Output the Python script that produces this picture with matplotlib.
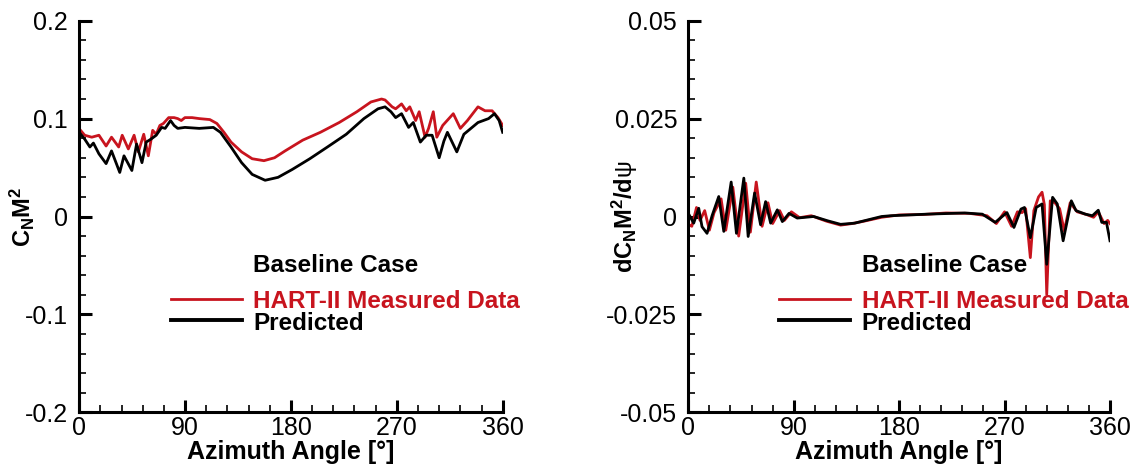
import matplotlib
matplotlib.use("Agg")
import matplotlib.pyplot as plt
from matplotlib.ticker import MultipleLocator, FuncFormatter

plt.rcParams['font.family'] = ['Liberation Sans', 'DejaVu Sans']
plt.rcParams['axes.unicode_minus'] = False
plt.rcParams['mathtext.fontset'] = 'custom'
plt.rcParams['mathtext.rm'] = 'Liberation Sans'
plt.rcParams['mathtext.bf'] = 'Liberation Sans:bold'
plt.rcParams['mathtext.it'] = 'Liberation Sans'

# ---- data ----
# left panel: C_N M^2
psi_meas = [0, 4.6, 10.6, 16.7, 22.8, 27.4, 33.5, 36.5, 41.7, 46.6,
            50.2, 54.8, 58.7, 62.4, 65.4, 68.5, 71.5, 76, 80.6, 83.7,
            86.7, 89.8, 95.9, 102, 111, 117, 123, 129, 138, 147,
            157, 166, 175, 190, 205, 221, 236, 248, 257, 260,
            266, 269, 274, 278, 281, 286, 289, 294, 297, 301,
            304, 309, 318, 324, 330, 339, 345, 351, 356, 360]
cnm2_meas = [0.0895, 0.083, 0.081, 0.083, 0.072, 0.081, 0.071, 0.083, 0.069, 0.083,
             0.066, 0.084, 0.062, 0.088, 0.084, 0.093, 0.095, 0.101, 0.101, 0.100,
             0.098, 0.101, 0.101, 0.100, 0.099, 0.095, 0.086, 0.076, 0.066, 0.059,
             0.057, 0.060, 0.067, 0.078, 0.086, 0.096, 0.107, 0.117, 0.120, 0.119,
             0.112, 0.110, 0.115, 0.108, 0.112, 0.098, 0.107, 0.081, 0.090, 0.107,
             0.081, 0.093, 0.105, 0.090, 0.098, 0.112, 0.108, 0.108, 0.101, 0.093]

psi_pred = [0, 4.6, 9, 12, 16.7, 22.8, 27.4, 34.4, 38, 44.7,
            48.7, 53.3, 56.9, 60.9, 65.4, 70, 73, 77.6, 80.6, 83.7,
            89.8, 102, 114, 120, 129, 138, 147, 158, 169, 181,
            196, 211, 227, 242, 254, 260, 265, 269, 274, 280,
            284, 290, 295, 300, 306, 310, 313, 321, 327, 339,
            348, 353, 357, 360]
cnm2_pred = [0.086, 0.079, 0.071, 0.075, 0.064, 0.054, 0.067, 0.045, 0.062, 0.047,
             0.074, 0.055, 0.076, 0.079, 0.083, 0.091, 0.090, 0.098, 0.093, 0.090,
             0.091, 0.090, 0.091, 0.086, 0.071, 0.055, 0.043, 0.037, 0.040, 0.048,
             0.059, 0.071, 0.084, 0.100, 0.110, 0.112, 0.107, 0.101, 0.105, 0.091,
             0.096, 0.076, 0.083, 0.083, 0.060, 0.077, 0.086, 0.066, 0.084, 0.096,
             0.100, 0.105, 0.098, 0.086]

# right panel: dC_N M^2 / dpsi
psi_dmeas = [0, 3, 7, 10, 14, 18, 22, 28, 32, 38,
             43, 49, 53, 58, 63, 68, 72, 78, 82, 88,
             95, 105, 118, 130, 140, 150, 165, 180, 200, 220,
             240, 255, 263, 270, 276, 281, 285, 288, 292, 295,
             299, 302, 304, 306, 309, 313, 317, 321, 326, 332,
             340, 346, 350, 355, 358, 360]
dcn_meas = [-0.0020, -0.0025, 0.0023, -0.0010, 0.0015, -0.0035, 0.0010, 0.0045, -0.0035, 0.0075,
            -0.0050, 0.0085, -0.0040, 0.0088, -0.0025, 0.0035, -0.0018, 0.0015, -0.0010, 0.0012,
            -0.0003, 0.0002, -0.0012, -0.0022, -0.0018, -0.0012, -0.0002, 0.0004, 0.0005, 0.0009,
            0.0008, 0.0002, -0.0018, 0.0012, -0.0025, 0.0012, 0.0010, 0.0020, -0.0105, 0.0015,
            0.0050, 0.0062, 0.0030, -0.0199, 0.0040, 0.0035, 0.0020, -0.0037, 0.0035, 0.0012,
            0.0005, -0.0002, 0.0012, -0.0018, -0.0010, -0.0018]

psi_dpred = [0, 4.6, 8.9, 11.7, 16, 20.3, 26, 30.3, 36.6, 41.1,
             47.4, 51.1, 56.6, 61.7, 66, 70.3, 76, 80.3, 86, 93,
             107, 119, 130, 142, 165, 173, 204, 236, 251, 262,
             272, 278, 284, 287, 292, 297, 302, 306, 311, 315,
             320, 327, 331, 339, 345, 350, 353, 357, 360]
dcn_pred = [0.0008, -0.0017, 0.0021, -0.0026, -0.0043, 0.0002, 0.0051, -0.0038, 0.0088, -0.0043,
            0.0098, -0.0051, 0.0060, -0.0021, 0.0038, -0.0017, 0.0017, -0.0013, 0.0008, -0.0004,
            0.0, -0.0011, -0.0020, -0.0017, 0.0, 0.0002, 0.0006, 0.0009, 0.0006, -0.0015,
            0.0010, -0.0028, 0.0019, 0.0023, -0.0054, 0.0023, 0.0032, -0.0122, 0.0049, 0.0032,
            -0.0062, 0.0040, 0.0015, 0.0006, 0.0002, 0.0016, -0.0015, -0.0015, -0.0062]

x_ticks = [0, 90, 180, 270, 360]
red = '#c8141e'


def style_axis(ax, ylim, ymajor, yminor, ylabel, label_x):
    ax.set_xlim(0, 360)
    ax.set_ylim(*ylim)
    ax.set_xticks(x_ticks)
    ax.xaxis.set_minor_locator(MultipleLocator(18))
    ax.yaxis.set_major_locator(MultipleLocator(ymajor))
    ax.yaxis.set_minor_locator(MultipleLocator(yminor))
    ax.yaxis.set_major_formatter(FuncFormatter(lambda v, p: '%g' % round(v, 4)))
    for s in ['top', 'right']:
        ax.spines[s].set_visible(False)
    for s in ['left', 'bottom']:
        ax.spines[s].set_linewidth(2.2)
    ax.tick_params(which='major', direction='in', length=9, width=2.2, labelsize=18)
    ax.tick_params(which='minor', direction='in', length=5, width=1.2)
    ax.tick_params(axis='x', which='major', pad=3)
    ax.tick_params(axis='y', which='major', pad=8)
    ax.set_xlabel('Azimuth Angle [°]', fontsize=18, fontweight='bold', labelpad=0)
    ax.set_ylabel(ylabel, fontsize=17)
    ax.yaxis.set_label_coords(label_x, 0.5)


def add_key(ax):
    ax.text(0.411, 0.376, 'Baseline Case', transform=ax.transAxes, fontsize=17.5,
            fontweight='bold', va='center', ha='left')
    ax.plot([0.216, 0.384], [0.2886, 0.2886], color=red, lw=2.0, transform=ax.transAxes,
            clip_on=False)
    ax.text(0.411, 0.2824, 'HART-II Measured Data', transform=ax.transAxes, fontsize=17.5,
            fontweight='bold', color=red, va='center', ha='left')
    ax.plot([0.216, 0.384], [0.2357, 0.2357], color='black', lw=2.8, transform=ax.transAxes,
            clip_on=False)
    ax.text(0.411, 0.228, 'Predicted', transform=ax.transAxes, fontsize=17.5,
            fontweight='bold', va='center', ha='left')


fig = plt.figure(figsize=(11.36, 4.67), dpi=100)
ax1 = fig.add_axes([0.0698, 0.1171, 0.3727, 0.8386])
ax2 = fig.add_axes([0.6059, 0.1171, 0.3712, 0.8386])

ax1.plot(psi_meas, cnm2_meas, color=red, lw=2.0)
ax1.plot(psi_pred, cnm2_pred, color='black', lw=2.0)
style_axis(ax1, (-0.2, 0.2), 0.1, 0.02, r'$\mathbf{C_N M^2}$', -0.10)
add_key(ax1)

ax2.plot(psi_dmeas, dcn_meas, color=red, lw=2.0)
ax2.plot(psi_dpred, dcn_pred, color='black', lw=2.0)
style_axis(ax2, (-0.05, 0.05), 0.025, 0.005, r'$\mathbf{dC_N M^2/d}\psi$', -0.115)
add_key(ax2)

fig.savefig('out.png', dpi=100)
